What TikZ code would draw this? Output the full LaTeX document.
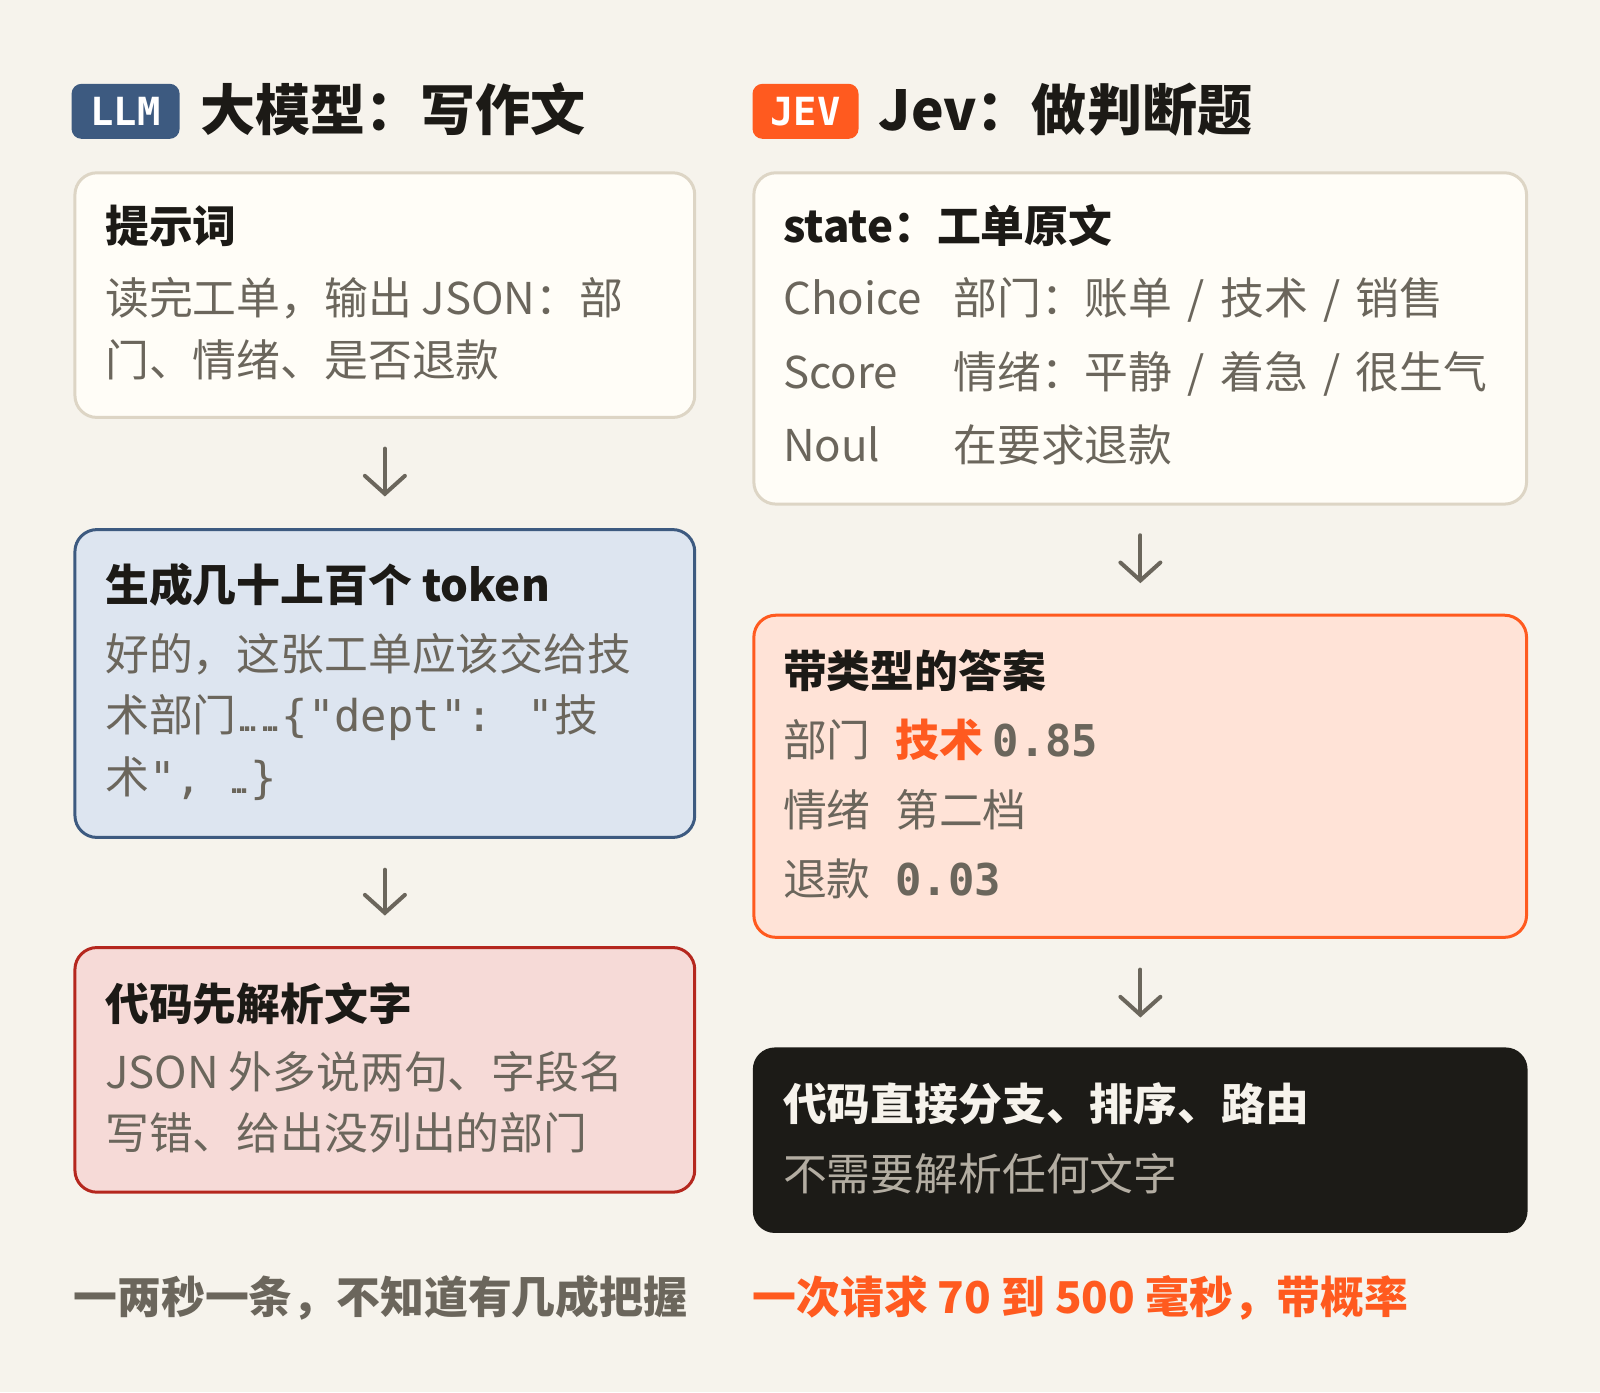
\documentclass[tikz,border=0pt]{standalone}
\usepackage{fontspec}
\setmainfont{Noto Sans CJK SC}
\newfontfamily\monof{DejaVu Sans Mono}
\newfontfamily\latf{Liberation Sans}
\usetikzlibrary{arrows.meta,calc}
\definecolor{cBg}{HTML}{F6F3EC}
\definecolor{cInk}{HTML}{1C1A16}
\definecolor{cGray}{HTML}{6B665C}
\definecolor{cBlue}{HTML}{3D5A80}
\definecolor{cBlueF}{HTML}{DDE5F0}
\definecolor{cOrg}{HTML}{FF5A1F}
\definecolor{cOrgF}{HTML}{FFE3D7}
\definecolor{cRed}{HTML}{B5271E}
\definecolor{cRedF}{HTML}{F6DAD7}
\definecolor{cCream}{HTML}{FFFDF7}
\definecolor{cCreamB}{HTML}{DDD5C5}
\definecolor{cDark}{HTML}{1C1B17}
\definecolor{cPale}{HTML}{F6F3EC}
\definecolor{cLight}{HTML}{B3ADA2}
\newcommand\dotz{{\latf.\kern-0.16em.\kern-0.16em.}}
\newcommand\sepz{\hspace{15pt}/\hspace{15pt}}
\begin{document}
\begin{tikzpicture}[x=1pt,y=-1pt,scale=1.0194,every node/.append style={transform shape},
  panel/.style={line width=3pt, rounded corners=22pt, anchor=north west, inner sep=0pt},
  ttl/.style={anchor=base west, inner sep=0pt, font=\fontsize{43}{50}\selectfont\bfseries, text=cInk},
  bod/.style={anchor=base west, inner sep=0pt, font=\fontsize{43}{50}\selectfont, text=cGray},
  foot/.style={anchor=base west, inner sep=0pt, font=\fontsize{43}{50}\selectfont\bfseries},
  hdr/.style={anchor=base west, inner sep=0pt, font=\fontsize{54}{60}\selectfont\bfseries, text=cInk},
  badge/.style={anchor=north west, inner sep=0pt, rounded corners=10pt, minimum width=106pt, minimum height=54pt, text=white, font=\fontsize{38}{40}\selectfont\monof\bfseries},
  arr/.style={draw=cGray, line width=4pt, line cap=round, -{Straight Barb[length=18pt,width=40pt,line cap=round]}}
]
\useasboundingbox (0,0) rectangle (1569.55,1365.51);
\fill[cBg] (0,0) rectangle (1569.55,1365.51);

% headers
\node[badge, fill=cBlue] (llm) at (70,82) {LLM};
\node[hdr] (lt) at (196,128) {大模型：写作文};
\node[badge, fill=cOrg, minimum width=104pt] (jev) at (738,82) {JEV};
\node[hdr] (rt) at (862,128) {Jev：做判断题};

% left column
\node[panel, draw=cCreamB, fill=cCream, minimum width=608pt, minimum height=240pt] (p1) at (72,168) {};
\node[ttl] (p1t) at (103,238) {提示词};
\node[bod] (p1a) at (103,309) {读完工单，输出 JSON：部};
\node[bod] (p1b) at (103,369) {门、情绪、是否退款};

\node[panel, draw=cBlue, fill=cBlueF, minimum width=608pt, minimum height=302pt] (p2) at (72,518) {};
\node[ttl] (p2t) at (103,590) {生成几十上百个 token};
\node[bod] (p2a) at (103,658) {好的，这张工单应该交给技};
\node[bod] (p2b) at (103,718) {术部门\dotz\dotz{\monof\{"dept": "}技};
\node[bod] (p2c) at (103,778) {术{\monof", }\dotz{\monof\}}};

\node[panel, draw=cRed, fill=cRedF, minimum width=608pt, minimum height=240pt] (p3) at (72,928) {};
\node[ttl] (p3t) at (103,1001) {代码先解析文字};
\node[bod] (p3a) at (103,1068) {JSON 外多说两句、字段名};
\node[bod] (p3b) at (103,1128) {写错、给出没列出的部门};

\draw[arr] ($(p1.south)+(0,29)$) -- ($(p2.north)+(0,-31)$);
\draw[arr] ($(p2.south)+(0,30)$) -- ($(p3.north)+(0,-30)$);

\node[foot, text=cGray] (fl) at (72,1288) {一两秒一条，不知道有几成把握};

% right column
\node[panel, draw=cCreamB, fill=cCream, minimum width=758pt, minimum height=325pt] (qa) at (738,168) {};
\node[ttl] (qat) at (768,238) {state：工单原文};
\node[bod] (qa1) at (768,309) {Choice};
\node[bod] (qa1v) at (935,309) {部门：账单\sepz 技术\sepz 销售};
\node[bod] (qa2) at (768,381) {Score};
\node[bod] (qa2v) at (935,381) {情绪：平静\sepz 着急\sepz 很生气};
\node[bod] (qa3) at (768,453) {Noul};
\node[bod] (qa3v) at (935,453) {在要求退款};

\node[panel, draw=cOrg, fill=cOrgF, minimum width=758pt, minimum height=316pt] (qb) at (738,602) {};
\node[ttl] (qbt) at (768,674) {带类型的答案};
\node[bod] (qb1) at (768,742) {部门};
\node[bod] (qb1v) at (878,742) {\textcolor{cOrg}{\bfseries 技术} {\monof\bfseries 0.85}};
\node[bod] (qb2) at (768,811) {情绪};
\node[bod] (qb2v) at (878,811) {第二档};
\node[bod] (qb3) at (768,878) {退款};
\node[bod] (qb3v) at (878,878) {{\monof\bfseries 0.03}};

\node[panel, fill=cDark, minimum width=760pt, minimum height=182pt] (qc) at (737,1026) {};
\node[ttl, text=cPale] (qct) at (768,1099) {代码直接分支、排序、路由};
\node[bod, text=cLight] (qcb) at (768,1168) {不需要解析任何文字};

\draw[arr] ($(qa.south)+(0,29)$) -- ($(qb.north)+(0,-30)$);
\draw[arr] ($(qb.south)+(0,30)$) -- ($(qc.north)+(0,-28)$);

\node[foot, text=cOrg] (fr) at (738,1288) {一次请求 70 到 500 毫秒，带概率};
\end{tikzpicture}
\end{document}
